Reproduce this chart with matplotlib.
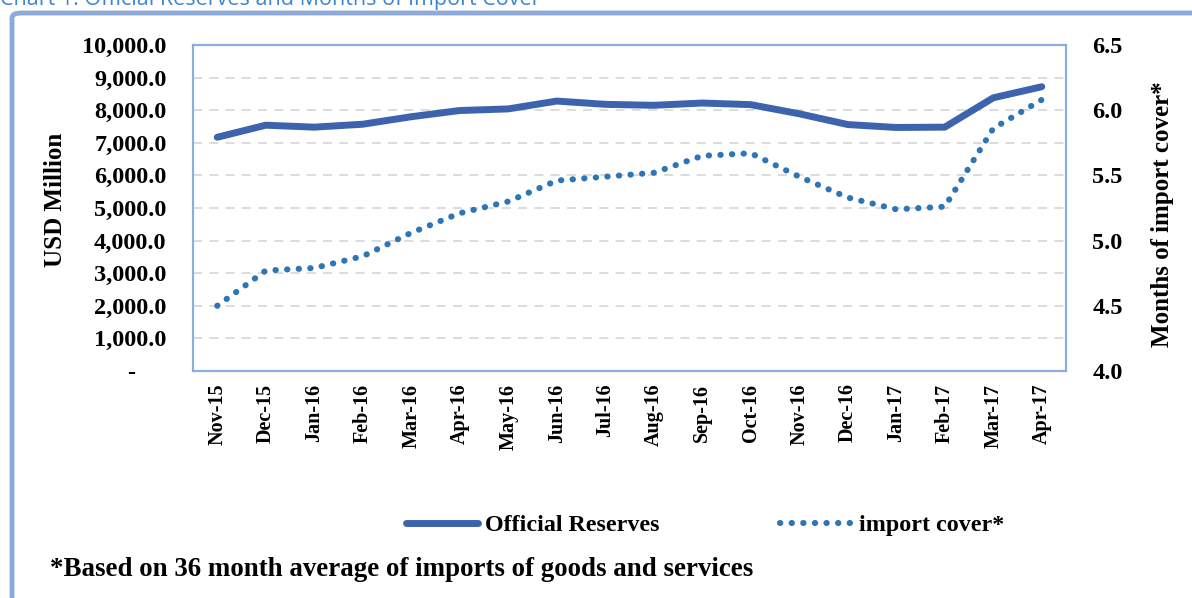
import numpy as np
import matplotlib.pyplot as plt
from matplotlib.patches import FancyBboxPatch
from matplotlib.ticker import FuncFormatter

months = ["Nov-15", "Dec-15", "Jan-16", "Feb-16", "Mar-16", "Apr-16", "May-16",
          "Jun-16", "Jul-16", "Aug-16", "Sep-16", "Oct-16", "Nov-16", "Dec-16",
          "Jan-17", "Feb-17", "Mar-17", "Apr-17"]
reserves = [7170, 7540, 7480, 7570, 7800, 7990, 8040, 8280, 8180, 8150,
            8220, 8170, 7890, 7560, 7470, 7480, 8380, 8720]
cover = [4.50, 4.77, 4.79, 4.88, 5.06, 5.21, 5.30, 5.46, 5.49, 5.52,
         5.65, 5.67, 5.49, 5.33, 5.24, 5.26, 5.86, 6.08]

serif = "Liberation Serif"
c_res = "#3D63AE"
c_cov = "#2E75B6"
c_frame = "#8EAADB"

fig = plt.figure(figsize=(11.92, 5.98), dpi=100)

# outer frame of the chart box
frame = FancyBboxPatch((12 / 1192, -0.05), 1.2, 1.0 - 13 / 598 + 0.05,
                       boxstyle="round,pad=0,rounding_size=0.008",
                       transform=fig.transFigure, fill=False,
                       ec=c_frame, lw=3.5, zorder=0)
fig.patches.append(frame)

# title, cut by the top edge as in the source page
fig.text(0.0, 1.0, "Chart 1: Official Reserves and Months of Import Cover",
         family="Open Sans", fontsize=15.5, color="#3B86D4",
         ha="left", va="center")

ax = fig.add_axes([193 / 1192, 1 - 371 / 598, (1066 - 193) / 1192, (371 - 45) / 598])
x = np.arange(len(months))

ax.plot(x, reserves, "-", color=c_res, lw=5, solid_capstyle="round",
        label="Official Reserves", zorder=3)
ax.set_ylim(0, 10000)
ax.set_yticks(np.arange(0, 10001, 1000))
ax.yaxis.set_major_formatter(FuncFormatter(
    lambda v, p: "-     " if v == 0 else f"{v:,.1f}"))
ax.grid(axis="y", color="#D9D9D9", lw=1.3, linestyle=(0, (5, 4)))
ax.set_axisbelow(True)
ax.set_xlim(-0.5, len(months) - 0.5)
ax.set_xticks(x)
ax.set_xticklabels(months, rotation=90)

ax2 = ax.twinx()
ax2.plot(x, cover, linestyle=(0, (0.05, 1.85)), color=c_cov, lw=4.4,
         dash_capstyle="round", label="import cover*", zorder=3)
ax2.set_ylim(4.0, 6.5)
ax2.set_yticks(np.arange(4.0, 6.51, 0.5))
ax2.yaxis.set_major_formatter(FuncFormatter(lambda v, p: f"{v:.1f}"))

for a in (ax, ax2):
    for s in a.spines.values():
        s.set_color("#86B0E0")
        s.set_linewidth(1.5)
    a.tick_params(length=0)
    for lab in a.get_xticklabels() + a.get_yticklabels():
        lab.set_family(serif)
        lab.set_fontweight("bold")
        lab.set_fontsize(17.5)
ax.tick_params(axis="y", pad=19)
ax.tick_params(axis="x", pad=9)
for lab in ax.get_xticklabels():
    lab.set_fontsize(14.5)
ax2.tick_params(axis="y", pad=19)

fig.text(55 / 1192, 1 - 200 / 598, "USD Million", rotation=90, family=serif,
         fontweight="bold", fontsize=18, ha="center", va="center")
fig.text(1163 / 1192, 1 - 214 / 598, "Months of import cover*", rotation=90,
         family=serif, fontweight="bold", fontsize=18, ha="center", va="center")

h1, l1 = ax.get_legend_handles_labels()
h2, l2 = ax2.get_legend_handles_labels()
fig.legend(h1 + h2, l1 + l2, loc="center", bbox_to_anchor=(705 / 1192, 1 - 525 / 598),
           ncol=2, frameon=False, columnspacing=5.0, handlelength=3.0,
           handletextpad=0.3, prop={"family": serif, "weight": "bold", "size": 17.3})

fig.text(50 / 1192, 1 - 569 / 598,
         "*Based on 36 month average of imports of goods and services",
         family=serif, fontweight="bold", fontsize=19.4, ha="left", va="center")

fig.savefig("out.png", dpi=100)
